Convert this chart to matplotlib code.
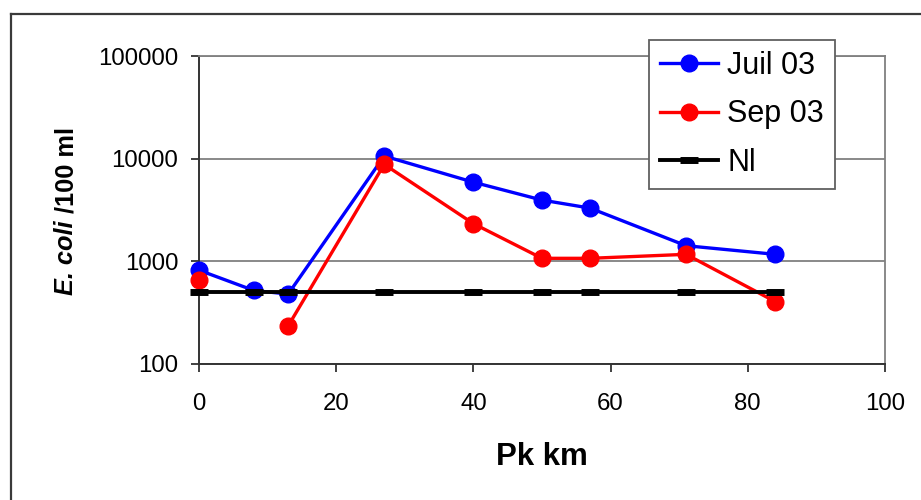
import matplotlib
matplotlib.use("Agg")
import matplotlib.pyplot as plt
from matplotlib.lines import Line2D
import numpy as np

plt.rcParams["font.family"] = ["Liberation Sans", "DejaVu Sans"]

# data (nan = no sample, gap in the line)
pk_juil = [0, 8, 13, 27, 40, 50, 57, 71, 84]
ecoli_juil = [820, 520, 480, 10600, 5900, 3950, 3300, 1420, 1170]

pk_sep = [0, 8, 13, 27, 40, 50, 57, 71, 84]
ecoli_sep = [660, np.nan, 235, 8800, 2330, 1070, 1070, 1170, 405]

pk_nl = [0, 8, 13, 27, 40, 50, 57, 71, 84]
nl_value = [500] * len(pk_nl)

x_ticks = [0, 20, 40, 60, 80, 100]
y_ticks = [100, 1000, 10000, 100000]

W, H = 921, 500
fig = plt.figure(figsize=(W / 100, H / 100), dpi=100)
ax = fig.add_axes([199 / W, 1 - 364 / H, (885 - 199) / W, (364 - 56) / H])

# outer chart frame (only left and top edges visible)
frame_col = "#3a3a3a"
fig.add_artist(Line2D([11 / W, 11 / W], [0, 1 - 14 / H], transform=fig.transFigure,
                      color=frame_col, lw=1.6))
fig.add_artist(Line2D([11 / W, 1], [1 - 14 / H, 1 - 14 / H], transform=fig.transFigure,
                      color=frame_col, lw=1.6))

ax.plot(pk_juil, ecoli_juil, color="#0000ff", lw=2.4, marker="o", ms=12,
        label="Juil 03", zorder=3, clip_on=False)
ax.plot(pk_sep, ecoli_sep, color="#ff0000", lw=2.4, marker="o", ms=12,
        label="Sep 03", zorder=4, clip_on=False)
ax.plot(pk_nl, nl_value, color="black", lw=2.8, marker="_", ms=13, mew=5,
        label="Nl", zorder=5, clip_on=False)

ax.set_yscale("log")
ax.set_ylim(100, 100000)
ax.set_xlim(0, 100)
ax.set_xticks(x_ticks)
ax.set_yticks(y_ticks)
ax.set_yticklabels([str(v) for v in y_ticks])
ax.yaxis.set_minor_locator(matplotlib.ticker.NullLocator())

ax.grid(axis="y", color="#808080", lw=1.3)
ax.set_axisbelow(True)

for side in ["top", "right"]:
    ax.spines[side].set_color("#808080")
    ax.spines[side].set_linewidth(1.3)
for side in ["left", "bottom"]:
    ax.spines[side].set_color("#333333")
    ax.spines[side].set_linewidth(1.4)

ax.tick_params(axis="both", direction="out", length=6, width=1.3, color="#333333",
               labelsize=17.3, pad=9)
ax.tick_params(axis="x", pad=15)

ax.set_xlabel("Pk km", fontsize=22.5, fontweight="bold", labelpad=19)

# y label: "E. coli" bold italic + "/100 ml" bold
lx = 66 / W
t1 = fig.text(lx, 1 - 295 / H, "E. coli", rotation=90, ha="center", va="bottom",
              fontsize=18.3, fontweight="bold", fontstyle="italic")
fig.canvas.draw()
bb = t1.get_window_extent()
fig.text(lx, bb.y1 / fig.bbox.height, " /100 ml", rotation=90, ha="center",
         va="bottom", fontsize=18.3, fontweight="bold")

leg = ax.legend(loc="upper left", bbox_to_anchor=(649 / W, 1 - 40 / H),
                bbox_transform=fig.transFigure, fontsize=22, frameon=True,
                fancybox=False, borderaxespad=0, handlelength=1.9,
                handletextpad=0.3, labelspacing=0.6, borderpad=0.36)
leg.get_frame().set_edgecolor("#606060")
leg.get_frame().set_linewidth(1.3)
leg.get_frame().set_alpha(1)

fig.savefig("out.png", dpi=100)
